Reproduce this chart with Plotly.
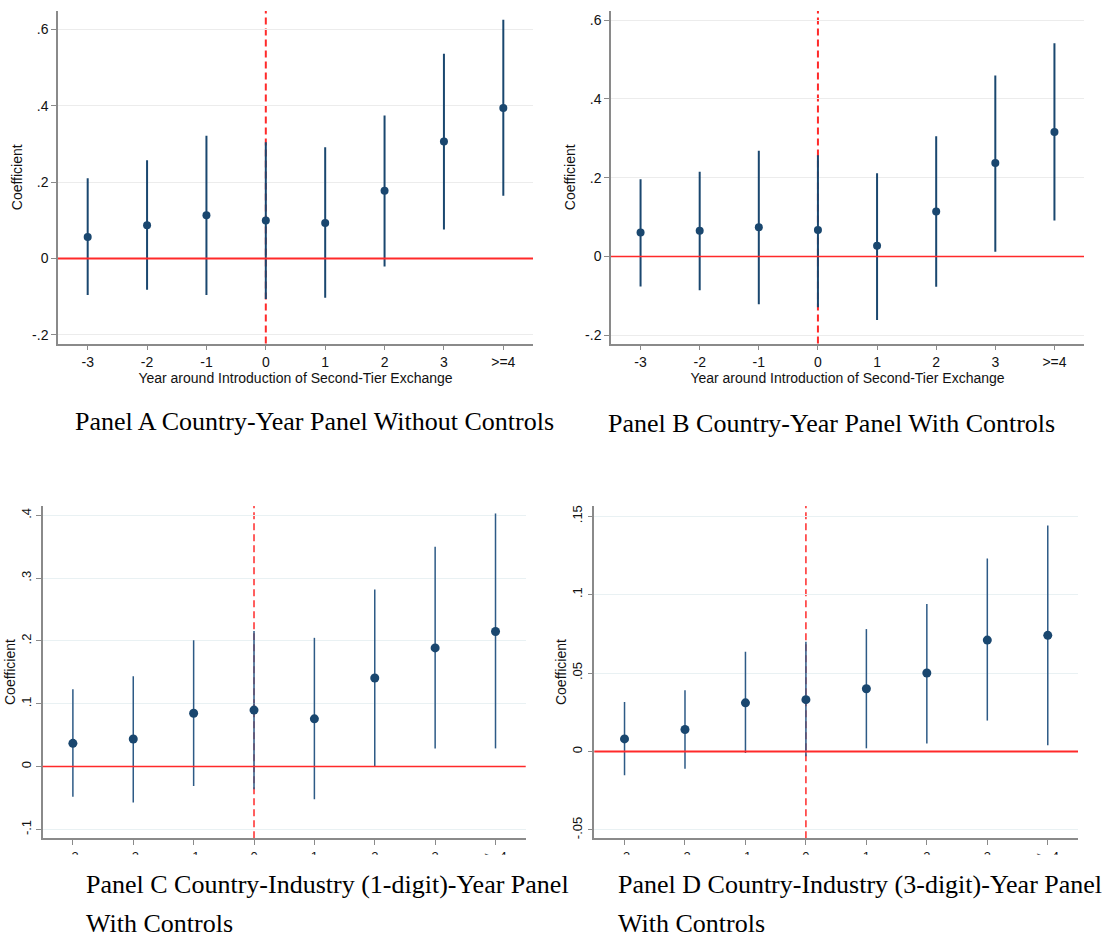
import plotly.graph_objects as go

# ---------------- data ----------------
years = [-3, -2, -1, 0, 1, 2, 3, 4]
year_labels = ["-3", "-2", "-1", "0", "1", "2", "3", ">=4"]

# Panel A: Country-Year Panel Without Controls
a_coef = [0.056, 0.087, 0.113, 0.099, 0.093, 0.177, 0.306, 0.394]
a_hi = [0.210, 0.257, 0.321, 0.304, 0.291, 0.374, 0.536, 0.625]
a_lo = [-0.096, -0.082, -0.096, -0.106, -0.103, -0.021, 0.076, 0.164]

# Panel B: Country-Year Panel With Controls
b_coef = [0.061, 0.065, 0.074, 0.067, 0.027, 0.114, 0.237, 0.316]
b_hi = [0.196, 0.215, 0.268, 0.257, 0.211, 0.305, 0.459, 0.541]
b_lo = [-0.076, -0.086, -0.121, -0.129, -0.161, -0.077, 0.012, 0.091]

# Panel C: Country-Industry (1-digit)-Year Panel With Controls
c_coef = [0.037, 0.044, 0.085, 0.090, 0.076, 0.141, 0.189, 0.215]
c_hi = [0.123, 0.144, 0.201, 0.216, 0.205, 0.282, 0.350, 0.403]
c_lo = [-0.048, -0.057, -0.031, -0.036, -0.052, 0.000, 0.029, 0.029]

# Panel D: Country-Industry (3-digit)-Year Panel With Controls
d_coef = [0.008, 0.014, 0.031, 0.033, 0.040, 0.050, 0.071, 0.074]
d_hi = [0.0315, 0.039, 0.0636, 0.070, 0.078, 0.094, 0.123, 0.144]
d_lo = [-0.0152, -0.011, -0.001, -0.003, 0.002, 0.005, 0.0197, 0.004]

a_ticks = [-0.2, 0, 0.2, 0.4, 0.6]
a_ticktext = ["-.2", "0", ".2", ".4", ".6"]
b_ticks = [-0.2, 0, 0.2, 0.4, 0.6]
b_ticktext = ["-.2", "0", ".2", ".4", ".6"]
c_ticks = [-0.1, 0, 0.1, 0.2, 0.3, 0.4]
c_ticktext = ["-.1", "0", ".1", ".2", ".3", ".4"]
d_ticks = [-0.05, 0, 0.05, 0.1, 0.15]
d_ticktext = ["-.05", "0", ".05", ".1", ".15"]

titles = {
    "A": "Panel A Country-Year Panel Without Controls",
    "B": "Panel B Country-Year Panel With Controls",
    "C1": "Panel C Country-Industry (1-digit)-Year Panel",
    "D1": "Panel D Country-Industry (3-digit)-Year Panel",
    "with": "With Controls",
}
x_title = "Year around Introduction of Second-Tier Exchange"
y_title = "Coefficient"

# ---------------- layout helpers ----------------
W, H = 1104, 941
NAVY = "#1a476f"
RED = "#ff2a2a"
SANS = "Liberation Sans, Arial, sans-serif"
SERIF = "Liberation Serif, Times New Roman, serif"


def px_x(p):
    return p / W


def px_y(p):
    return 1 - p / H


panels = [
    # key, coef, hi, lo, xdom(px), ydom(px), yrange, ticks, ticktext, bottom-style
    ("1", a_coef, a_hi, a_lo, (58, 533), (10, 343.3), (-0.223, 0.648), a_ticks, a_ticktext, False),
    ("2", b_coef, b_hi, b_lo, (611, 1084), (10, 343.3), (-0.221, 0.623), b_ticks, b_ticktext, False),
    ("3", c_coef, c_hi, c_lo, (42.7, 525.7), (506, 839), (-0.114, 0.415), c_ticks, c_ticktext, True),
    ("4", d_coef, d_hi, d_lo, (594.3, 1078), (506, 839), (-0.0553, 0.1565), d_ticks, d_ticktext, True),
]

fig = go.Figure()
shapes = []
annotations = []
axes = {}

for key, coef, hi, lo, xd, yd, yr, tv, tt, bottom in panels:
    xa = "x" if key == "1" else "x" + key
    ya = "y" if key == "1" else "y" + key
    xl = "xaxis" if key == "1" else "xaxis" + key
    yl = "yaxis" if key == "1" else "yaxis" + key

    ci_color = "#2d5a86" if bottom else NAVY
    fig.add_trace(go.Scatter(
        x=years, y=coef, mode="markers",
        marker=dict(size=9 if bottom else 8, color=NAVY),
        error_y=dict(type="data", symmetric=False,
                     array=[h - c for h, c in zip(hi, coef)],
                     arrayminus=[c - l for c, l in zip(coef, lo)],
                     width=0, thickness=1.5 if bottom else 2, color=ci_color),
        xaxis=xa, yaxis=ya, hoverinfo="x+y",
    ))

    grid_col = "#e9f1f3" if bottom else "#ececec"
    xaxis = dict(
        domain=[px_x(xd[0]), px_x(xd[1])], anchor=ya,
        range=[-3.5, 4.5], tickvals=years, ticktext=year_labels,
        showgrid=False, zeroline=False,
        showline=True, linecolor="#8a8a8a", linewidth=1.5,
        ticks="outside", ticklen=5, tickwidth=1, tickcolor="#8a8a8a",
        tickfont=dict(family=SANS, size=13 if bottom else 14, color="#111"),
        fixedrange=True,
    )
    if not bottom:
        xaxis["title"] = dict(text=x_title, font=dict(family=SANS, size=14, color="#111"), standoff=0)
    axes[xl] = xaxis
    axes[yl] = dict(
        domain=[px_y(yd[1]), px_y(yd[0])], anchor=xa,
        range=list(yr), tickvals=tv, ticktext=tt,
        showgrid=True, gridcolor=grid_col, gridwidth=1, zeroline=False,
        showline=True, linecolor="#8a8a8a", linewidth=1.5,
        ticks="outside", ticklen=5, tickwidth=1, tickcolor="#8a8a8a",
        tickfont=dict(family=SANS, size=13 if bottom else 14, color="#111"),
        tickangle=-90 if bottom else 0,
        title=dict(text=y_title, font=dict(family=SANS, size=14, color="#111"),
                   standoff=0 if bottom else 6),
        fixedrange=True,
    )

    # dashed vertical line at event year 0
    shapes.append(dict(
        type="line", xref=xa, yref="paper", x0=0, x1=0,
        y0=px_y(yd[1]), y1=px_y(yd[0]),
        line=dict(color=RED, width=1.5 if bottom else 2, dash="7px,4px"), layer="below",
    ))
    # zero reference line
    shapes.append(dict(
        type="line", xref="paper", yref=ya, x0=px_x(xd[0]), x1=px_x(xd[1]), y0=0, y1=0,
        line=dict(color=RED, width=1.5 if key in ("2", "3") else 2), layer="above",
    ))

# bottom panels: tick labels are cropped in the original figure
for x0, x1 in [(20, 548), (570, 1104)]:
    shapes.append(dict(
        type="rect", xref="paper", yref="paper",
        x0=px_x(x0), x1=px_x(x1), y0=px_y(868), y1=px_y(855.5),
        fillcolor="white", line=dict(width=0), layer="above",
    ))

# panel captions
cap_font = dict(family=SERIF, size=26, color="#000")
caps = [
    (titles["A"], 314.5, 421, "center"),
    (titles["B"], 831, 423, "center"),
    (titles["C1"], 84, 885, "left"),
    (titles["with"], 84, 924, "left"),
    (titles["D1"], 616, 885, "left"),
    (titles["with"], 616, 924, "left"),
]
for text, x, y, anc in caps:
    annotations.append(dict(
        text=text, xref="paper", yref="paper", x=px_x(x), y=px_y(y),
        xanchor=anc, yanchor="middle", showarrow=False, font=cap_font,
    ))

fig.update_layout(
    width=W, height=H,
    margin=dict(l=0, r=0, t=0, b=0),
    paper_bgcolor="white", plot_bgcolor="white",
    showlegend=False,
    shapes=shapes, annotations=annotations,
    **axes,
)
fig.write_html(
    "out.html",
    config={"displayModeBar": False},
    post_script="document.body.style.margin='0';document.body.style.overflow='hidden';",
)
